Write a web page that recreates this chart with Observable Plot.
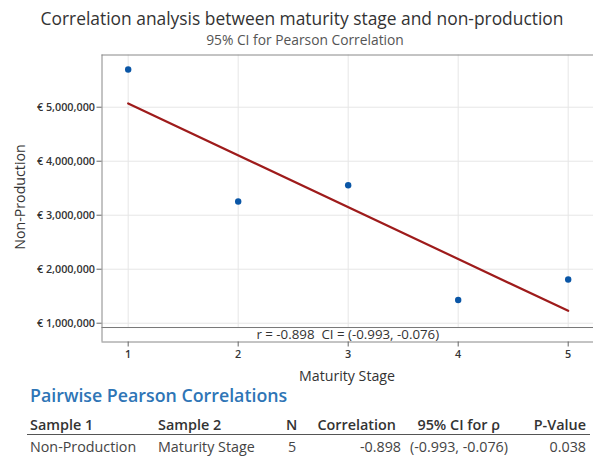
<!DOCTYPE html>
<html><head><meta charset="utf-8">
<script src="https://cdn.jsdelivr.net/npm/d3@7"></script>
<script src="https://cdn.jsdelivr.net/npm/@observablehq/plot@0.6"></script>
<style>
body{margin:0;background:#fff;font-family:"Open Sans",sans-serif;}
#wrap{position:relative;width:593px;height:457px;overflow:hidden;}
.abs{position:absolute;white-space:nowrap;line-height:1.05;}
#title{left:302px;top:18px;font-size:17.4px;color:#333;font-weight:500;transform:translate(-50%,-50%);}
#subtitle{left:305px;top:39.5px;font-size:13.8px;color:#555;transform:translate(-50%,-50%);}
#ylab{left:20px;top:197px;font-size:14.2px;color:#333;transform:translate(-50%,-50%) rotate(-90deg);}
#xlab{left:347px;top:376px;font-size:14.2px;color:#333;transform:translate(-50%,-50%);}
#thead{left:30px;top:395px;font-size:17.8px;color:#2e75b6;font-weight:600;transform:translate(0,-50%);}
.c{position:absolute;white-space:nowrap;font-size:14.3px;line-height:1.1;transform:translate(0,-50%);}
.h{top:425px;color:#333;font-weight:600;font-size:14.4px;}
.d{top:447px;color:#444;}
#hline{position:absolute;left:27px;width:563px;top:434px;height:1px;background:#555;}
</style></head>
<body><div id="wrap"></div>
<script>
const stages = [1, 2, 3, 4, 5];
const nonProduction = [5698000, 3254000, 3556000, 1430000, 1809000];
const yTicks = [1000000, 2000000, 3000000, 4000000, 5000000];
const xTicks = [1, 2, 3, 4, 5];
const title = "Correlation analysis between maturity stage and non-production";
const subtitle = "95% CI for Pearson Correlation";
const annotation = "r = -0.898  CI = (-0.993, -0.076)";
const tableTitle = "Pairwise Pearson Correlations";
const headers = ["Sample 1", "Sample 2", "N", "Correlation", "95% CI for ρ", "P-Value"];
const row = ["Non-Production", "Maturity Stage", "5", "-0.898", "(-0.993, -0.076)", "0.038"];

const xDomain = [0.762, 5.23];
const yDomain = [652000, 5967000];
const bandTop = 920000;

const data = stages.map((s, i) => ({stage: s, value: nonProduction[i]}));
const fmt = d3.format(",");

const chart = Plot.plot({
  width: 593, height: 390,
  marginTop: 54.5, marginLeft: 101.5, marginRight: 0, marginBottom: 48.5,
  style: {fontFamily: "Open Sans, sans-serif", background: "transparent"},
  x: {domain: xDomain},
  y: {domain: yDomain},
  marks: [
    Plot.gridX(xTicks, {stroke: "#e6e6e6", strokeOpacity: 1}),
    Plot.gridY(yTicks, {stroke: "#e6e6e6", strokeOpacity: 1}),
    Plot.rect([{}], {x1: () => xDomain[0], x2: () => xDomain[1], y1: () => yDomain[0], y2: () => bandTop, fill: "#fff"}),
    Plot.ruleY([bandTop], {stroke: "#777", strokeWidth: 1}),
    Plot.text([annotation], {x: () => (xDomain[0] + xDomain[1]) / 2, y: () => (yDomain[0] + bandTop) / 2, text: d => d, fontSize: 13.3, fill: "#333"}),
    Plot.linearRegressionY(data, {x: "stage", y: "value", ci: 0, stroke: "#9e1b1b", strokeWidth: 2.2}),
    Plot.dot(data, {x: "stage", y: "value", r: 3.2, fill: "#0a56a6", stroke: "none"}),
    Plot.ruleX([xDomain[0]], {stroke: "#888"}),
    Plot.ruleY([yDomain[1]], {stroke: "#888"}),
    Plot.ruleY([yDomain[0]], {stroke: "#888"}),
    Plot.axisX(xTicks, {tickSize: 5, tickPadding: 3, fontSize: 10.8, fontWeight: 600, stroke: "#666", fill: "#333", label: null}),
    Plot.axisY(yTicks, {tickSize: 5, tickPadding: 2, fontSize: 10.8, fontWeight: 600, stroke: "#666", fill: "#333", label: null, tickFormat: d => "€ " + fmt(d)})
  ]
});

const wrap = document.getElementById("wrap");
chart.style.position = "absolute";
chart.style.left = "0px";
chart.style.top = "0px";
wrap.appendChild(chart);

function add(id, cls, text, left, extra) {
  const el = document.createElement("div");
  if (id) el.id = id;
  el.className = cls;
  el.textContent = text;
  if (left != null) el.style.left = left + "px";
  if (extra) Object.assign(el.style, extra);
  wrap.appendChild(el);
  return el;
}
add("title", "abs", title);
add("subtitle", "abs", subtitle);
add("ylab", "abs", "Non-Production");
add("xlab", "abs", "Maturity Stage");
add("thead", "abs", tableTitle);
const hl = document.createElement("div"); hl.id = "hline"; wrap.appendChild(hl);

const R = x => ({right: (593 - x) + "px"});
add(null, "c h", headers[0], 30);
add(null, "c h", headers[1], 158);
add(null, "c h", headers[2], 286);
add(null, "c h", headers[3], null, R(396));
add(null, "c h", headers[4], null, R(500));
add(null, "c h", headers[5], null, R(586));
add(null, "c d", row[0], 30);
add(null, "c d", row[1], 158);
add(null, "c d", row[2], 288);
add(null, "c d", row[3], null, R(401));
add(null, "c d", row[4], null, R(508));
add(null, "c d", row[5], null, R(586));
</script></body></html>
